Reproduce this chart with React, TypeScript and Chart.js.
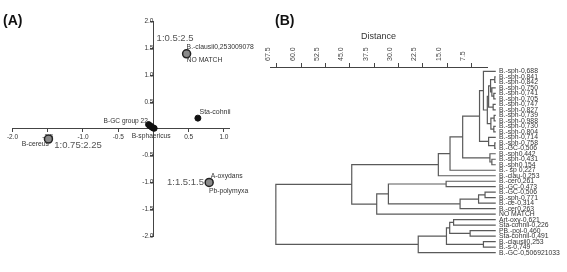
import React, { useEffect, useRef } from 'react';
import { Chart, registerables } from 'chart.js';

Chart.register(...registerables);

const FONT = 'Arial, "Liberation Sans", Helvetica, sans-serif';

// ---------- Panel A data ----------
const PCA_X_TICKS = [-2.0, -1.5, -1.0, -0.5, 0.5, 1.0];
const PCA_Y_TICKS = [-2.0, -1.5, -1.0, -0.5, 0.5, 1.0, 1.5, 2.0];
const RATIO_X = [0.47, -1.49, 0.79];
const RATIO_Y = [1.4, -0.19, -1.0];
const SPECIES_X = [0.63, -0.07, -0.05, -0.03, -0.01, 0.01];
const SPECIES_Y = [0.2, 0.08, 0.06, 0.04, 0.02, 0.01];
const ANNOT_TEXT = [
  '1:0.5:2.5',
  'B.-clausii0,253009078',
  'NO MATCH',
  'Sta-cohnii',
  'B-GC group 22',
  'B-sphaericus',
  'B-cereus',
  '1:0.75:2.25',
  'A-oxydans',
  '1:1.5:1.5',
  'Pb-polymyxa',
];
const ANNOT_X = [0.47, 0.47, 0.47, 0.63, -0.05, 0.0, -1.49, -1.49, 0.79, 0.79, 0.79];
const ANNOT_Y = [1.4, 1.4, 1.4, 0.2, 0.06, 0.02, -0.19, -0.19, -1.0, -1.0, -1.0];

// ---------- Panel B data ----------
const DIST_TICKS = [7.5, 15, 22.5, 30, 37.5, 45, 52.5, 60, 67.5];
const LEAF_NAMES = [
  'B.-sph-0,688', 'B.-sph-0,841', 'B.-sph-0,842', 'B.-sph-0,750', 'B.-sph-0,741',
  'B.-sph-0,705', 'B.-sph-0,747', 'B.-sph-0,827', 'B.-sph-0,739', 'B.-sph-0,988',
  'B.-sph-0,730', 'B.-sph-0,804', 'B.-sph-0,714', 'B.-sph-0,758', 'B.-GC-0,506',
  'B.-sph0,442', 'B.-sph-0,431', 'B.-sph0,154', 'B.- sp 0,227', 'B.-clau-0,253',
  'B.-cer0,261', 'B.-GC-0,473', 'B.-GC-0,506', 'B.-sph-0,771', 'B.-ce-0,314',
  'B.-cer0,263', 'NO MATCH', 'Art-oxy-0,621', 'Sta-cohnii-0,226', 'PB.-pol-0,460',
  'Sta-cohnii-0,491', 'B.-clausii0,253', 'B.-s-0,749', 'B.-GC-0,506921033',
];
// linkage: node 34+k merges MERGE_A[k] and MERGE_B[k] at MERGE_DIST[k]
const MERGE_A = [1, 4, 3, 34, 6, 37, 8, 10, 40, 39, 0, 13, 12, 44, 16, 15, 47, 50, 51, 20, 22, 54, 55, 53, 57, 52, 27, 29, 60, 31, 62, 64, 59];
const MERGE_B = [2, 5, 35, 36, 7, 38, 9, 11, 41, 42, 43, 14, 45, 46, 17, 48, 49, 18, 19, 21, 23, 24, 25, 56, 26, 58, 28, 30, 61, 32, 63, 33, 65];
const MERGE_DIST = [0.3, 0.6, 1.2, 1.6, 0.8, 2.2, 0.5, 0.6, 1.5, 2.6, 3.8, 0.3, 2.2, 5.0, 1.2, 1.8, 10.2, 14.1, 17.7, 15.3, 3.3, 5.3, 11.0, 33.1, 36.7, 44.4, 13.0, 7.9, 14.2, 3.8, 15.2, 23.9, 67.8];

const ANNOT_STYLE = [
  { dx: -30, dy: -15, align: 'left', size: 9.5, color: '#555' },
  { dx: 0, dy: -6.3, align: 'left', size: 6.8, color: '#333' },
  { dx: 0, dy: 6.4, align: 'left', size: 6.8, color: '#333' },
  { dx: 1.6, dy: -5.6, align: 'left', size: 7, color: '#333' },
  { dx: -2, dy: -4.7, align: 'right', size: 6.6, color: '#333' },
  { dx: -2.3, dy: 8, align: 'center', size: 6.7, color: '#333' },
  { dx: 0.5, dy: 4.6, align: 'right', size: 6.8, color: '#333' },
  { dx: 5.8, dy: 6.3, align: 'left', size: 9.5, color: '#555' },
  { dx: 1.5, dy: -6.8, align: 'left', size: 6.8, color: '#333' },
  { dx: -5.2, dy: 0, align: 'right', size: 9.5, color: '#555' },
  { dx: -0.2, dy: 8.2, align: 'left', size: 6.8, color: '#333' },
];

function buildDendrogram() {
  const ypos: number[] = LEAF_NAMES.map((_, i) => i + 1);
  const height: number[] = LEAF_NAMES.map(() => 0);
  const pts: { x: number | null; y: number | null }[] = [];
  MERGE_DIST.forEach((d, k) => {
    const a = MERGE_A[k];
    const b = MERGE_B[k];
    const ya = ypos[a];
    const yb = ypos[b];
    pts.push({ x: height[a], y: ya }, { x: d, y: ya }, { x: d, y: yb }, { x: height[b], y: yb }, { x: null, y: null });
    ypos.push((ya + yb) / 2);
    height.push(d);
  });
  return pts;
}

const annotPlugin = {
  id: 'annot',
  afterDatasetsDraw(chart: any) {
    const { ctx, scales } = chart;
    ctx.save();
    ctx.textBaseline = 'middle';
    ANNOT_TEXT.forEach((t, i) => {
      const s = ANNOT_STYLE[i];
      const px = scales.x.getPixelForValue(ANNOT_X[i]) + s.dx;
      const py = scales.y.getPixelForValue(ANNOT_Y[i]) + s.dy;
      ctx.font = `${s.size}px ${FONT}`;
      ctx.fillStyle = s.color;
      ctx.textAlign = s.align;
      ctx.fillText(t, px, py);
    });
    ctx.restore();
  },
};

export default function App() {
  const refA = useRef<HTMLCanvasElement>(null);
  const refB = useRef<HTMLCanvasElement>(null);

  useEffect(() => {
    document.body.style.margin = '0';
    Chart.defaults.font.family = FONT;

    const axisColor = '#444';
    const chartA = new Chart(refA.current as HTMLCanvasElement, {
      type: 'scatter',
      data: {
        datasets: [
          {
            data: SPECIES_X.map((x, i) => ({ x, y: SPECIES_Y[i] })),
            backgroundColor: '#111',
            borderColor: '#111',
            pointRadius: 3,
            borderWidth: 1,
          },
          {
            data: RATIO_X.map((x, i) => ({ x, y: RATIO_Y[i] })),
            backgroundColor: '#8a8a8a',
            borderColor: '#222',
            pointRadius: 4,
            borderWidth: 1.5,
          },
        ],
      },
      options: {
        responsive: false,
        animation: false,
        layout: { padding: { left: 12.5, right: 40.4, top: 21.7, bottom: 36 } },
        plugins: { legend: { display: false }, tooltip: { enabled: false } },
        scales: {
          x: {
            type: 'linear',
            min: -2,
            max: 1.08,
            position: { y: 0 } as any,
            afterBuildTicks: (s: any) => {
              s.ticks = PCA_X_TICKS.map((v) => ({ value: v }));
            },
            ticks: { font: { size: 6.5 }, color: '#333', padding: 1, callback: (v: any) => Number(v).toFixed(1) },
            grid: { drawOnChartArea: false, tickLength: 3, color: axisColor },
            border: { color: axisColor, width: 1 },
          },
          y: {
            type: 'linear',
            min: -2,
            max: 2,
            position: { x: 0 } as any,
            afterBuildTicks: (s: any) => {
              s.ticks = PCA_Y_TICKS.map((v) => ({ value: v }));
            },
            ticks: { font: { size: 6.5 }, color: '#333', padding: 2, callback: (v: any) => Number(v).toFixed(1) },
            grid: { drawOnChartArea: false, tickLength: 3, color: axisColor },
            border: { color: axisColor, width: 1 },
          },
        },
      },
      plugins: [annotPlugin],
    });

    const chartB = new Chart(refB.current as HTMLCanvasElement, {
      type: 'scatter',
      data: {
        datasets: [
          {
            data: buildDendrogram() as any,
            showLine: true,
            spanGaps: false,
            borderColor: '#5a5a5a',
            borderWidth: 1.2,
            pointRadius: 0,
            pointHitRadius: 0,
            clip: false as any,
          },
        ],
      },
      options: {
        responsive: false,
        animation: false,
        layout: { padding: { left: 20, right: 0, top: 0, bottom: 6.2 } },
        plugins: { legend: { display: false }, tooltip: { enabled: false } },
        scales: {
          x: {
            type: 'linear',
            position: 'top',
            reverse: true,
            min: 2.7,
            max: 69.6,
            afterBuildTicks: (s: any) => {
              s.ticks = DIST_TICKS.map((v) => ({ value: v }));
            },
            afterFit: (s: any) => {
              s.height = 67;
            },
            ticks: {
              autoSkip: false,
              minRotation: 90,
              maxRotation: 90,
              font: { size: 7 },
              color: '#444',
              padding: 2,
              callback: (v: any) => Number(v).toFixed(1),
            },
            grid: { drawOnChartArea: false, drawTicks: true, tickLength: 4, color: axisColor },
            border: { display: true, color: axisColor, width: 1 },
            title: { display: true, text: 'Distance', font: { size: 9 }, color: '#333', padding: { top: 31, bottom: 0 } },
          },
          y: {
            type: 'linear',
            position: 'right',
            reverse: true,
            min: 0.2,
            max: 34.6,
            afterBuildTicks: (s: any) => {
              s.ticks = LEAF_NAMES.map((_, i) => ({ value: i + 1 }));
            },
            afterFit: (s: any) => {
              s.width = 80;
            },
            ticks: {
              autoSkip: false,
              font: { size: 6.8 },
              color: '#333',
              padding: 12,
              callback: (v: any) => LEAF_NAMES[Math.round(Number(v)) - 1] ?? '',
            },
            grid: { display: false, drawTicks: false },
            border: { display: false },
          },
        },
      },
    });

    return () => {
      chartA.destroy();
      chartB.destroy();
    };
  }, []);

  const letter: React.CSSProperties = {
    position: 'absolute',
    top: 12,
    fontFamily: FONT,
    fontWeight: 'bold',
    fontSize: 14,
    lineHeight: '16px',
    color: '#111',
  };

  return (
    <div style={{ position: 'relative', width: 567, height: 272, overflow: 'hidden', background: '#fff' }}>
      <canvas ref={refB} width={317} height={272} style={{ position: 'absolute', left: 250, top: 0, display: 'block' }} />
      <canvas ref={refA} width={270} height={272} style={{ position: 'absolute', left: 0, top: 0, display: 'block' }} />
      <div style={{ ...letter, left: 3 }}>(A)</div>
      <div style={{ ...letter, left: 275 }}>(B)</div>
    </div>
  );
}
